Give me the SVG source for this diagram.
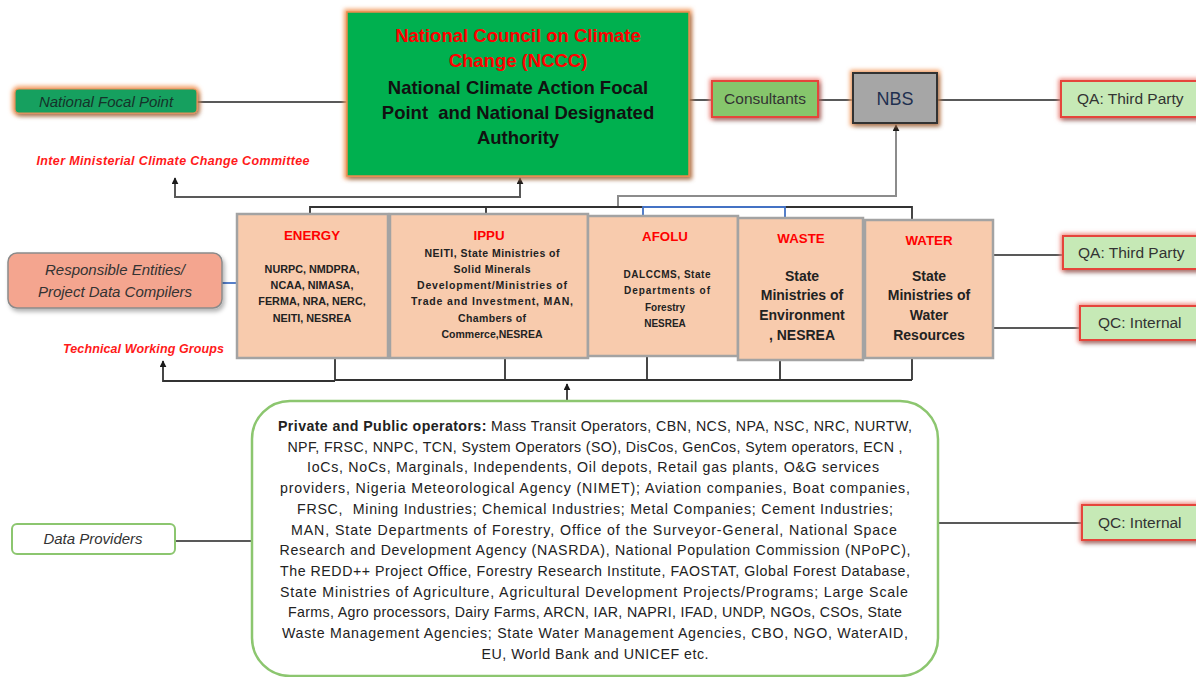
<svg xmlns="http://www.w3.org/2000/svg" width="1196" height="677" viewBox="0 0 1196 677">
  <style>
    text { font-family: "Liberation Sans", Arial, Helvetica, sans-serif; }
    .conn { fill: none; stroke: #595959; stroke-width: 2; }
    .conn-lt { fill: none; stroke: #8C8C8C; stroke-width: 2; }
    .brk { fill: none; stroke: #333; stroke-width: 1.8; }
    .brk-blue { fill: none; stroke: #4472C4; stroke-width: 1.8; }
    .glow-or { fill: none; stroke: #F4A066; stroke-width: 6; }
    .glow-red { fill: none; stroke: #F08A80; stroke-width: 5; }
    .sector rect { fill: #F8CBAD; stroke: #A3A3A3; stroke-width: 2.5; }
    .sec-title { font-weight: bold; fill: #FF0000; font-size: 13.3px; text-anchor: middle; }
    .sec-body { font-weight: bold; fill: #222; text-anchor: middle; }
    .qa rect.box { fill: #C6E9B6; stroke: #E5453A; stroke-width: 2; }
    .qa text { font-size: 15.5px; fill: #333; }
    .label-red { font-weight: bold; font-style: italic; fill: #FF1A1A; font-size: 12.5px; text-anchor: middle; }
    .ops { font-size: 14.2px; fill: #222; text-anchor: middle; }
  </style>
  <defs>
    <filter id="shadow" x="-10%" y="-15%" width="130%" height="150%">
      <feDropShadow dx="2" dy="3" stdDeviation="2" flood-color="#000" flood-opacity="0.3"/>
    </filter>
    <filter id="soft" x="-20%" y="-40%" width="140%" height="180%">
      <feGaussianBlur stdDeviation="2"/>
    </filter>
    <marker id="arr" viewBox="0 0 10 10" refX="9" refY="5" markerUnits="userSpaceOnUse" markerWidth="7" markerHeight="7" orient="auto-start-reverse">
      <path d="M0,0 L10,5 L0,10 z" fill="#1a1a1a"/>
    </marker>
  </defs>

  <!-- connectors -->
  <g id="connectors">
    <!-- top row -->
    <path class="conn" d="M197,102 H347"/>
    <path class="conn" d="M689,100 H712"/>
    <path class="conn" d="M818,100 H853"/>
    <path class="conn" d="M937,100 H1061"/>
    <!-- council to inter-ministerial committee -->
    <path class="conn" d="M175,178 V197 H520 V178" marker-start="url(#arr)" marker-end="url(#arr)"/>
    <!-- sector bracket up to NBS -->
    <path class="conn-lt" d="M618,207 V196 H896 V125" marker-end="url(#arr)"/>
    <!-- bracket over sector boxes -->
    <path class="brk" d="M310,214 V207 H643 M785,207 H912 V220 M486,207 V214"/>
    <path class="brk-blue" d="M643,216 V207 H785 V218"/>
    <!-- responsible entities to energy -->
    <path class="brk-blue" d="M222,283 H237"/>
    <!-- QA / QC side links -->
    <path class="conn" d="M993,255 H1063"/>
    <path class="conn" d="M993,328 H1080"/>
    <path class="conn" d="M938,523 H1082"/>
    <!-- bracket under sector boxes -->
    <path class="brk" d="M335,358 V380 M505,358 V380 M647,356 V380 M780,360 V380 M912,358 V380 M335,380 H912"/>
    <path class="brk" d="M335,381 H163 V361" marker-end="url(#arr)"/>
    <path class="brk" d="M567,401 V384" marker-end="url(#arr)"/>
    <!-- data providers -->
    <path class="conn" d="M175,541 H252" stroke-width="2.5"/>
  </g>

  <!-- national council -->
  <g id="nccc">
    <rect class="glow-or" x="347" y="12" width="342" height="164" filter="url(#soft)"/>
    <rect x="347" y="12" width="342" height="164" fill="#00B050" stroke="#EE8A4E" stroke-width="1.5" filter="url(#shadow)"/>
    <text x="518" y="42" text-anchor="middle" font-weight="bold" font-size="18.5" fill="#FF0000">National Council on Climate</text>
    <text x="518" y="67" text-anchor="middle" font-weight="bold" font-size="18.5" fill="#FF0000">Change (NCCC)</text>
    <text x="518" y="94" text-anchor="middle" font-weight="bold" font-size="18.5" fill="#111">National Climate Action Focal</text>
    <text x="518" y="119" text-anchor="middle" font-weight="bold" font-size="18.5" fill="#111" xml:space="preserve">Point  and National Designated</text>
    <text x="518" y="144" text-anchor="middle" font-weight="bold" font-size="18.5" fill="#111">Authority</text>
  </g>

  <!-- national focal point -->
  <g id="focal-point">
    <rect class="glow-or" x="15" y="89" width="182" height="24" rx="4" filter="url(#soft)"/>
    <rect x="15" y="89" width="182" height="24" rx="4" fill="#12A05E" stroke="#E9905A" stroke-width="1.2" filter="url(#shadow)"/>
    <text x="106" y="107" text-anchor="middle" font-style="italic" font-size="15" fill="#15332A">National Focal Point</text>
  </g>

  <g id="inter-ministerial">
    <text class="label-red" x="173" y="165" textLength="273">Inter Ministerial Climate Change Committee</text>
  </g>

  <!-- consultants -->
  <g id="consultants" class="qa">
    <rect class="glow-red" x="712" y="81" width="106" height="36" filter="url(#soft)"/>
    <rect x="712" y="81" width="106" height="36" fill="#86C66C" stroke="#E5453A" stroke-width="2" filter="url(#shadow)"/>
    <text x="765" y="104" text-anchor="middle" fill="#2F3B3B">Consultants</text>
  </g>

  <!-- NBS -->
  <g id="nbs">
    <rect class="glow-or" x="853" y="73" width="84" height="50" filter="url(#soft)"/>
    <rect x="853" y="73" width="84" height="50" fill="#A6A6A6" stroke="#333" stroke-width="2" filter="url(#shadow)"/>
    <text x="895" y="105" text-anchor="middle" font-size="18" fill="#1F3050">NBS</text>
  </g>

  <!-- QA third party, top -->
  <g id="qa-top" class="qa">
    <rect class="glow-red" x="1061" y="81" width="150" height="36" filter="url(#soft)"/>
    <rect class="box" x="1061" y="81" width="150" height="36" filter="url(#shadow)"/>
    <text x="1077" y="104">QA: Third Party</text>
  </g>

  <!-- responsible entities -->
  <g id="responsible">
    <rect x="8" y="253" width="214" height="55" rx="9" fill="#F4A58F" stroke="#8A8A8A" stroke-width="1.5" filter="url(#shadow)"/>
    <text x="115" y="275" text-anchor="middle" font-style="italic" font-size="15" fill="#333">Responsible Entities/</text>
    <text x="115" y="297" text-anchor="middle" font-style="italic" font-size="15" fill="#333">Project Data Compilers</text>
  </g>

  <g id="twg">
    <text class="label-red" x="143.5" y="353" textLength="161">Technical Working Groups</text>
  </g>

  <!-- sector boxes -->
  <g id="energy" class="sector">
    <rect x="237" y="214" width="151" height="144"/>
    <text class="sec-title" x="312" y="240">ENERGY</text>
    <text class="sec-body" font-size="10.8" x="312" y="273">NURPC, NMDPRA,</text>
    <text class="sec-body" font-size="10.8" x="312" y="289">NCAA, NIMASA,</text>
    <text class="sec-body" font-size="10.8" x="312" y="305">FERMA, NRA, NERC,</text>
    <text class="sec-body" font-size="10.8" x="312" y="322">NEITI, NESREA</text>
  </g>
  <g id="ippu" class="sector">
    <rect x="390" y="214" width="198" height="144"/>
    <text class="sec-title" x="489" y="240">IPPU</text>
    <text class="sec-body" font-size="10.5" x="492" y="257" textLength="135">NEITI, State Ministries of</text>
    <text class="sec-body" font-size="10.5" x="492" y="273" textLength="77">Solid Minerals</text>
    <text class="sec-body" font-size="10.5" x="492" y="289" textLength="150">Development/Ministries of</text>
    <text class="sec-body" font-size="10.5" x="492" y="305" textLength="162">Trade and Investment, MAN,</text>
    <text class="sec-body" font-size="10.5" x="492" y="322" textLength="68">Chambers of</text>
    <text class="sec-body" font-size="10.5" x="492" y="338">Commerce,NESREA</text>
  </g>
  <g id="afolu" class="sector">
    <rect x="588" y="216" width="150" height="140"/>
    <text class="sec-title" x="665" y="241">AFOLU</text>
    <text class="sec-body" font-size="10" x="667" y="278" textLength="87">DALCCMS, State</text>
    <text class="sec-body" font-size="10" x="667" y="294" textLength="86">Departments of</text>
    <text class="sec-body" font-size="10" x="665" y="311">Forestry</text>
    <text class="sec-body" font-size="10" x="665" y="327">NESREA</text>
  </g>
  <g id="waste" class="sector">
    <rect x="738" y="218" width="125" height="142"/>
    <text class="sec-title" x="801" y="243">WASTE</text>
    <text class="sec-body" font-size="14" x="802" y="281">State</text>
    <text class="sec-body" font-size="14" x="802" y="300">Ministries of</text>
    <text class="sec-body" font-size="14" x="802" y="320">Environment</text>
    <text class="sec-body" font-size="14" x="802" y="340">, NESREA</text>
  </g>
  <g id="water" class="sector">
    <rect x="865" y="220" width="128" height="138"/>
    <text class="sec-title" x="929" y="245">WATER</text>
    <text class="sec-body" font-size="14" x="929" y="281">State</text>
    <text class="sec-body" font-size="14" x="929" y="300">Ministries of</text>
    <text class="sec-body" font-size="14" x="929" y="320">Water</text>
    <text class="sec-body" font-size="14" x="929" y="340">Resources</text>
  </g>

  <!-- QA / QC middle -->
  <g id="qa-mid" class="qa">
    <rect class="glow-red" x="1063" y="236" width="150" height="33" filter="url(#soft)"/>
    <rect class="box" x="1063" y="236" width="150" height="33" filter="url(#shadow)"/>
    <text x="1078" y="258">QA: Third Party</text>
  </g>
  <g id="qc-mid" class="qa">
    <rect class="glow-red" x="1080" y="306" width="140" height="34" filter="url(#soft)"/>
    <rect class="box" x="1080" y="306" width="140" height="34" filter="url(#shadow)"/>
    <text x="1098" y="328">QC: Internal</text>
  </g>

  <!-- data providers -->
  <g id="data-providers">
    <rect x="12" y="524" width="163" height="30" rx="5" fill="#fff" stroke="#8CC66F" stroke-width="2"/>
    <text x="93" y="544" text-anchor="middle" font-style="italic" font-size="15" fill="#333">Data Providers</text>
  </g>

  <!-- operators -->
  <g id="operators">
    <rect x="252" y="401" width="686" height="275" rx="38" fill="#fff" stroke="#8CC66F" stroke-width="2.5"/>
    <text class="ops" x="595" y="431" textLength="634"><tspan font-weight="bold">Private and Public operators:</tspan> Mass Transit Operators, CBN, NCS, NPA, NSC, NRC, NURTW,</text>
    <text class="ops" x="595" y="451.7" textLength="615">NPF, FRSC, NNPC, TCN, System Operators (SO), DisCos, GenCos, Sytem operators, ECN ,</text>
    <text class="ops" x="593" y="472.4" textLength="572">IoCs, NoCs, Marginals, Independents, Oil depots, Retail gas plants, O&amp;G services</text>
    <text class="ops" x="595" y="493.1" textLength="630">providers, Nigeria Meteorological Agency (NIMET); Aviation companies, Boat companies,</text>
    <text class="ops" x="595" y="513.8" textLength="596" xml:space="preserve">FRSC,  Mining Industries; Chemical Industries; Metal Companies; Cement Industries;</text>
    <text class="ops" x="594" y="534.5" textLength="606">MAN, State Departments of Forestry, Office of the Surveyor-General, National Space</text>
    <text class="ops" x="595" y="555.2" textLength="631">Research and Development Agency (NASRDA), National Population Commission (NPoPC),</text>
    <text class="ops" x="595" y="575.9" textLength="630">The REDD++ Project Office, Forestry Research Institute, FAOSTAT, Global Forest Database,</text>
    <text class="ops" x="594" y="596.6" textLength="628">State Ministries of Agriculture, Agricultural Development Projects/Programs; Large Scale</text>
    <text class="ops" x="595" y="617.3" textLength="614">Farms, Agro processors, Dairy Farms, ARCN, IAR, NAPRI, IFAD, UNDP, NGOs, CSOs, State</text>
    <text class="ops" x="595" y="638" textLength="626">Waste Management Agencies; State Water Management Agencies, CBO, NGO, WaterAID,</text>
    <text class="ops" x="595" y="658.7" textLength="227">EU, World Bank and UNICEF etc.</text>
  </g>

  <!-- QC internal, bottom -->
  <g id="qc-bottom" class="qa">
    <rect class="glow-red" x="1082" y="505" width="140" height="35" filter="url(#soft)"/>
    <rect class="box" x="1082" y="505" width="140" height="35" filter="url(#shadow)"/>
    <text x="1098" y="528">QC: Internal</text>
  </g>
</svg>
